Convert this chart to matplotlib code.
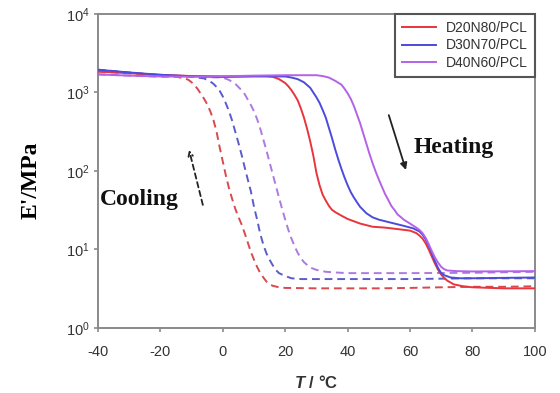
import matplotlib
matplotlib.use("Agg")
import matplotlib.pyplot as plt

plt.rcParams["font.family"] = ["Liberation Sans", "DejaVu Sans"]
plt.rcParams["axes.unicode_minus"] = False
plt.rcParams["mathtext.fontset"] = "custom"
plt.rcParams["mathtext.rm"] = "Liberation Sans"
plt.rcParams["mathtext.it"] = "Liberation Sans:italic"
plt.rcParams["mathtext.bf"] = "Liberation Sans:bold"
plt.rcParams["mathtext.bfit"] = "Liberation Sans:italic:bold"

# ---- storage modulus E' (MPa) versus temperature (°C) ----
series_names = ["D20N80/PCL", "D30N70/PCL", "D40N60/PCL"]

# heating scans (solid)
heat_T_d20 = [-40, -30, -20, -10, 0, 10, 14, 16, 18, 20, 21, 22, 23, 24, 25, 26, 27, 28, 29,
              30, 31, 32, 33, 34, 35, 36, 38, 40, 44, 48, 52, 56, 60, 62, 63, 64, 65, 66, 67,
              68, 69, 70, 71, 72, 74, 77, 80, 90, 100]
heat_E_d20 = [1850, 1760, 1680, 1620, 1600, 1620, 1620, 1585, 1480, 1320, 1200, 1070, 930, 795,
              630, 480, 347, 240, 158, 95, 66, 50, 42, 36, 32, 30, 27, 24.5, 21.4, 19.5, 19,
              18.2, 17.4, 16.2, 15.1, 13.8, 12, 10, 8.1, 6.6, 5.5, 4.8, 4.3, 4.0, 3.6, 3.4,
              3.3, 3.2, 3.2]

heat_T_d30 = [-40, -30, -20, -10, 0, 10, 20, 22, 24, 26, 28, 30, 31, 32, 33, 34, 35, 36, 37, 38,
              39, 40, 41, 42, 43, 44, 46, 48, 50, 54, 58, 61, 63, 64, 65, 66, 67, 68, 69, 70,
              71, 73, 76, 80, 100]
heat_E_d30 = [1950, 1800, 1680, 1610, 1580, 1600, 1600, 1550, 1480, 1350, 1150, 870, 740, 600,
              480, 355, 263, 190, 141, 107, 83, 66, 54, 46, 40, 35, 29, 25.7, 24, 21.9, 20,
              18.6, 17, 15.5, 13.5, 11.2, 8.9, 7.1, 5.8, 5.0, 4.7, 4.4, 4.3, 4.3, 4.4]

heat_T_d40 = [-40, -30, -20, -10, 0, 10, 20, 30, 32, 34, 36, 38, 39, 40, 41, 42, 43, 44, 45, 46,
              47, 48, 49, 50, 51, 52, 53, 54, 55, 56, 57, 58, 60, 62, 63, 64, 65, 66, 67, 68,
              69, 70, 71, 72, 75, 80, 100]
heat_E_d40 = [1700, 1640, 1600, 1590, 1610, 1640, 1660, 1660, 1620, 1550, 1410, 1260, 1120, 977,
              832, 676, 525, 407, 302, 224, 166, 126, 98, 78, 63, 51, 43, 36, 32, 28, 26, 24,
              21.4, 19, 17.8, 16.2, 14.1, 11.7, 9.5, 7.9, 6.8, 6.0, 5.6, 5.4, 5.3, 5.25, 5.3]

# cooling scans (dashed)
cool_T_d20 = [-40, -30, -20, -15, -12, -11, -10, -9, -8, -7, -6, -5, -4, -3, -2, -1, 0, 1, 2,
              3, 4, 5, 6, 7, 8, 9, 10, 11, 12, 13, 14, 15, 16, 18, 20, 30, 40, 50, 60, 70, 80,
              90, 100]
cool_E_d20 = [1850, 1760, 1660, 1585, 1510, 1445, 1350, 1230, 1100, 955, 832, 708, 575, 447,
              316, 200, 132, 87, 60, 44, 33, 26, 21, 16.2, 12.3, 9.3, 7.4, 6.0, 5.0, 4.4, 3.9,
              3.6, 3.45, 3.3, 3.24, 3.2, 3.2, 3.2, 3.24, 3.3, 3.35, 3.35, 3.4]

cool_T_d30 = [-40, -30, -20, -10, -6, -5, -4, -3, -2, -1, 0, 1, 2, 3, 4, 5, 6, 7, 8, 9, 10, 11,
              12, 13, 14, 15, 16, 17, 18, 20, 22, 25, 40, 60, 80, 100]
cool_E_d30 = [1950, 1800, 1660, 1585, 1510, 1445, 1380, 1290, 1175, 1050, 890, 724, 575, 437,
              316, 229, 162, 112, 78, 55, 35, 24, 15.8, 11.5, 8.9, 7.4, 6.3, 5.5, 5.0, 4.6,
              4.3, 4.2, 4.2, 4.2, 4.3, 4.3]

cool_T_d40 = [-40, -30, -20, -10, 0, 2, 4, 6, 7, 8, 9, 10, 11, 12, 13, 14, 15, 16, 17, 18, 19,
              20, 21, 22, 23, 24, 25, 26, 28, 30, 33, 36, 40, 60, 80, 100]
cool_E_d40 = [1700, 1640, 1585, 1585, 1550, 1445, 1290, 1070, 955, 813, 692, 575, 457, 347,
              251, 182, 129, 91, 65, 46, 33, 24, 17.8, 13.8, 11, 9.1, 7.8, 6.9, 5.9, 5.5, 5.2,
              5.1, 5.0, 5.0, 5.05, 5.2]

x_ticks = [-40, -20, 0, 20, 40, 60, 80, 100]
y_ticks = [1, 10, 100, 1000, 10000]
y_tick_labels = [r"$\mathregular{10^{0}}$", r"$\mathregular{10^{1}}$", r"$\mathregular{10^{2}}$",
                 r"$\mathregular{10^{3}}$", r"$\mathregular{10^{4}}$"]

colors = ["#e8343c", "#4b4bdc", "#b462e8"]
dash_colors = ["#d84a4e", "#5a5ccc", "#ad7ae0"]

fig = plt.figure(figsize=(5.6, 3.93), dpi=100)
ax = fig.add_axes([0.175, 0.1654, 0.78, 0.799])

heat = [(heat_T_d20, heat_E_d20), (heat_T_d30, heat_E_d30), (heat_T_d40, heat_E_d40)]
cool = [(cool_T_d20, cool_E_d20), (cool_T_d30, cool_E_d30), (cool_T_d40, cool_E_d40)]

for (T, E), c, name in zip(heat, colors, series_names):
    ax.plot(T, E, color=c, lw=1.4, label=name, zorder=3, solid_joinstyle="round")
for (T, E), c in zip(cool, dash_colors):
    ax.plot(T, E, color=c, lw=1.4, dashes=(4, 2.5), zorder=2)

ax.set_yscale("log")
ax.set_xlim(-40, 100)
ax.set_ylim(1, 10000)
ax.set_xticks(x_ticks)
ax.set_yticks(y_ticks)
ax.set_yticklabels(y_tick_labels)
ax.minorticks_off()

for sp in ax.spines.values():
    sp.set_color("#8a8a8a")
    sp.set_linewidth(1.4)
ax.tick_params(axis="both", direction="out", length=3, width=1.2, color="#8a8a8a",
               labelcolor="#333333", labelsize=10.5)
ax.tick_params(axis="x", pad=9)
ax.tick_params(axis="y", pad=3)

ax.set_ylabel("E'/MPa", family="Liberation Serif", fontweight="bold", fontsize=17)
ax.yaxis.set_label_coords(-0.13, 0.47)
ax.set_xlabel(r"$\mathbfit{T}$ / °C", fontweight="bold", fontsize=12, color="#333333")
ax.xaxis.set_label_coords(0.5, -0.145)

leg = ax.legend(loc="upper right", borderaxespad=0, fancybox=False, framealpha=1,
                edgecolor="#555555", fontsize=10, handlelength=2.45, handletextpad=0.7,
                labelspacing=0.25, borderpad=0.5)
leg.get_frame().set_linewidth(1.5)
for t in leg.get_texts():
    t.set_color("#333333")

# heating / cooling annotations
ax.annotate("", xy=(58.7, 103), xytext=(53.2, 515),
            arrowprops=dict(arrowstyle="-|>", color="#222222", lw=1.3,
                            mutation_scale=10, shrinkA=0, shrinkB=0))
ax.text(61, 170, "Heating", family="Liberation Serif", fontweight="bold", fontsize=17,
        color="#111111", ha="left", va="baseline")

ax.annotate("", xy=(-10.8, 185), xytext=(-6.4, 37),
            arrowprops=dict(arrowstyle="->", color="#222222", lw=1.3, linestyle=(0, (3, 2)),
                            mutation_scale=8, shrinkA=0, shrinkB=0))
ax.text(-39.3, 37, "Cooling", family="Liberation Serif", fontweight="bold", fontsize=17,
        color="#111111", ha="left", va="baseline")

fig.savefig("out.png", dpi=100)
